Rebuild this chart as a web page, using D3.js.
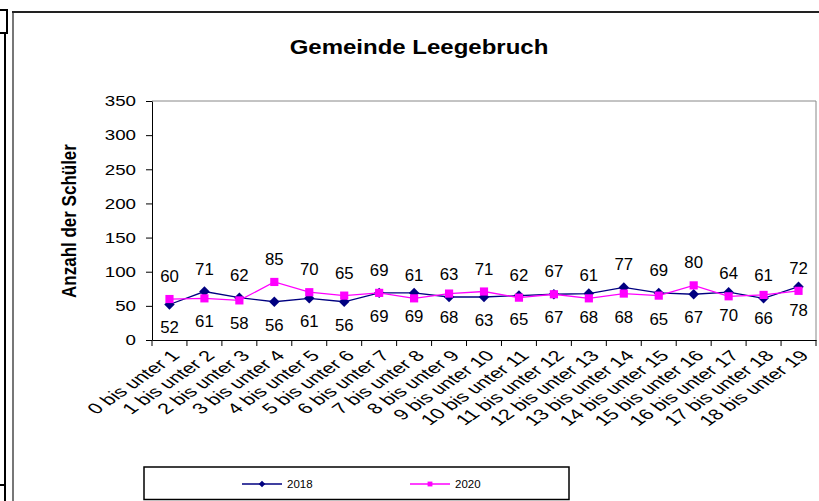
<!DOCTYPE html>
<html>
<head>
<meta charset="utf-8">
<title>Gemeinde Leegebruch</title>
<script src="https://cdnjs.cloudflare.com/ajax/libs/d3/7.8.5/d3.min.js"></script>
<style>
body{
margin:0;
background:#fff;
}
svg{
display:block;
font-family:"Liberation Sans", Arial, sans-serif;
}
</style>
</head>
<body>
<svg width="819" height="501"></svg>

<script>

// data
const categories = ["0 bis unter 1","1 bis unter 2","2 bis unter 3","3 bis unter 4","4 bis unter 5",
	"5 bis unter 6","6 bis unter 7","7 bis unter 8","8 bis unter 9","9 bis unter 10","10 bis unter 11",
	"11 bis unter 12","12 bis unter 13","13 bis unter 14","14 bis unter 15","15 bis unter 16",
	"16 bis unter 17","17 bis unter 18","18 bis unter 19"]
const values2018 = [52,71,62,56,61,56,69,69,63,63,65,67,68,77,69,67,70,61,78]
const values2020 = [60,61,58,85,70,65,69,61,68,71,62,67,61,68,65,80,64,66,72]
// which series has its label placed above the point
const labelAbove = ["2020","2018","2018","2020","2020","2020","2018","2020","2018","2020",
	"2020","2018","2020","2018","2018","2020","2020","2018","2020"]
const yTicks = [0,50,100,150,200,250,300,350]
const seriesNames = ["2018","2020"]

const series = [
	{name:"2018", values:values2018, color:"#000080", marker:"diamond"},
	{name:"2020", values:values2020, color:"#FF00FF", marker:"square"}
]

const svg = d3.select('svg')
const SX = 1.25   // the picture is stretched sideways

const plotLeft = 152, plotRight = 816, plotTop = 101, plotBottom = 340

const x = d3.scaleBand().domain(categories).range([plotLeft,plotRight]).padding(0)
const y = d3.scaleLinear().domain([0,350]).range([plotBottom,plotTop])

// page / chart frame remnants
svg.append("path")
	.attr("d","M0,10H7V33H0M5,33V501M0,485H5")
	.attr("fill","none").attr("stroke","#000").attr("stroke-width",2)
svg.append("line").attr("x1",13).attr("x2",13).attr("y1",11).attr("y2",501)
	.attr("stroke","#777").attr("stroke-width",2)
svg.append("line").attr("x1",12).attr("x2",819).attr("y1",12).attr("y2",12)
	.attr("stroke","#222").attr("stroke-width",2)

// plot area border (top + right)
svg.append("path")
	.attr("d",`M${plotLeft},${plotTop}H${plotRight}V${plotBottom}`)
	.attr("fill","none").attr("stroke","#888").attr("stroke-width",1)

// title
svg.append("text")
	.attr("transform",`translate(419,54) scale(1.2,1)`)
	.attr("text-anchor","middle")
	.attr("font-size",20).attr("font-weight","bold")
	.text("Gemeinde Leegebruch")

// y axis title
svg.append("text")
	.attr("transform",`translate(76,221) scale(1.15,1) rotate(-90)`)
	.attr("text-anchor","middle")
	.attr("font-size",17).attr("font-weight","bold")
	.text("Anzahl der Schüler")

// y axis
const yAxis = svg.append("g")
	.attr("transform",`translate(${plotLeft},0)`)
	.call(d3.axisLeft(y).tickValues(yTicks).tickSize(6).tickSizeOuter(0).tickPadding(6))
yAxis.attr("font-family",null).attr("font-size",null)
yAxis.select(".domain").attr("stroke","#000")
yAxis.selectAll(".tick line").attr("stroke","#000")
yAxis.selectAll(".tick text")
	.attr("font-size",15).attr("fill","#000")
	.attr("x",-16/SX)
	.attr("transform",`scale(${SX},1)`)

// x axis
const xAxis = svg.append("g")
	.attr("transform",`translate(0,${plotBottom})`)
	.call(d3.axisBottom(x).tickSize(0).tickSizeOuter(0).tickPadding(0))
xAxis.attr("font-family",null).attr("font-size",null)
xAxis.select(".domain").attr("stroke","#000")
xAxis.selectAll(".tick text")
	.attr("font-size",15).attr("fill","#000")
	.attr("text-anchor","end")
	.attr("x",0).attr("y",0).attr("dy","0.35em")
	.attr("transform",`translate(6,13) scale(1.45,1) rotate(-45)`)
// excel style ticks between categories
const bounds = categories.map(c => x(c)).concat([x(categories[categories.length-1]) + x.bandwidth()])
xAxis.selectAll("line.bound")
	.data(bounds)
	.join("line")
	.attr("class","bound")
	.attr("x1",d => d).attr("x2",d => d)
	.attr("y1",0).attr("y2",6)
	.attr("stroke","#000")

function markerPath(type, size){
	if(type == "diamond"){
		return d3.symbol().type(d3.symbolDiamond2).size(size)()
	}else{
		return d3.symbol().type(d3.symbolSquare2).size(size)()
	}
}

const cx = (d,i) => x(categories[i]) + x.bandwidth()/2

// lines and markers
series.forEach(s => {
	const line = d3.line()
		.x((d,i) => cx(d,i))
		.y(d => y(d))
	svg.append("path")
		.datum(s.values)
		.attr("d",line)
		.attr("fill","none")
		.attr("stroke",s.color)
		.attr("stroke-width",1.3)

	svg.append("g").selectAll("path")
		.data(s.values)
		.join("path")
		.attr("d",markerPath(s.marker, s.marker == "diamond" ? 70 : 85))
		.attr("transform",(d,i) => `translate(${cx(d,i)},${y(d)})`)
		.attr("fill",s.color)
})

// data labels
series.forEach(s => {
	svg.append("g").selectAll("text")
		.data(s.values)
		.join("text")
		.attr("transform",(d,i) => {
			const above = labelAbove[i] == s.name
			const ty = y(d) + (above ? -23 : 23) + 6
			return `translate(${cx(d,i)},${ty}) scale(1.05,1)`
		})
		.attr("text-anchor","middle")
		.attr("font-size",16)
		.attr("fill","#000")
		.text(d => d)
})

// legend
const legend = svg.append("g")
legend.append("rect")
	.attr("x",144).attr("y",467).attr("width",425).attr("height",32.5)
	.attr("fill","#fff").attr("stroke","#000").attr("stroke-width",1.5)

const legendX = d3.scalePoint().domain(seriesNames).range([242,410])
series.forEach(s => {
	const lx = legendX(s.name)
	const g = legend.append("g").attr("transform",`translate(${lx},484)`)
	g.append("line").attr("x1",0).attr("x2",40).attr("y1",0).attr("y2",0)
		.attr("stroke",s.color).attr("stroke-width",1.3)
	g.append("path")
		.attr("d",markerPath(s.marker, s.marker == "diamond" ? 28 : 30))
		.attr("transform","translate(20,0)")
		.attr("fill",s.color)
	g.append("text")
		.attr("transform",`translate(45,4) scale(1.15,1)`)
		.attr("font-size",10)
		.attr("fill","#000")
		.text(s.name)
})

</script>
</body>
</html>
